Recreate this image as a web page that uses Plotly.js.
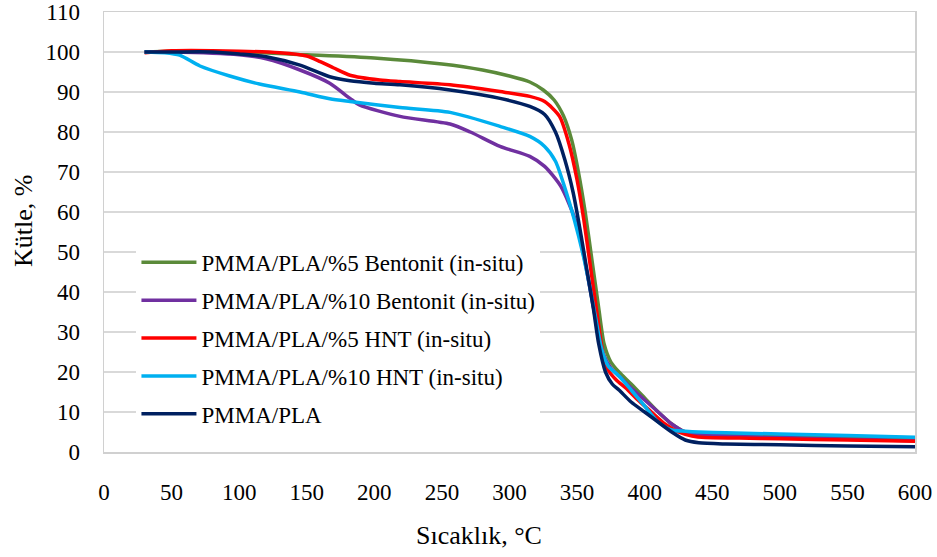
<!DOCTYPE html>
<html>
<head>
<meta charset="utf-8">
<script src="https://cdn.plot.ly/plotly-3.0.1.min.js"></script>
<style>html,body{margin:0;padding:0;background:#fff;}#chart{width:937px;height:557px;}</style>
</head>
<body>
<div id="chart"></div>
<script>
// Series names (legend order)
const seriesNames = [
  "PMMA/PLA/%5 Bentonit (in-situ)",
  "PMMA/PLA/%10 Bentonit (in-situ)",
  "PMMA/PLA/%5 HNT (in-situ)",
  "PMMA/PLA/%10 HNT (in-situ)",
  "PMMA/PLA"
];
const seriesColors = ["#5B8A3A", "#7030A0", "#FF0000", "#00B0F0", "#002060"];

// Temperature (°C) and mass (%) readings for each series
const tBent5 = [30, 50, 100, 150, 200, 250, 280, 300, 315, 325, 333, 340, 346, 351, 356, 361, 366, 370, 375, 381, 390, 400, 410, 420, 430, 440, 460, 500, 550, 600];
const mBent5 = [100, 100.2, 100, 99.3, 98.5, 97, 95.5, 94, 92.5, 90.5, 88, 84, 78, 70, 60, 48, 36, 27, 22.5, 20, 17, 13.5, 10, 7, 5, 4.5, 4.3, 4, 3.7, 3.4];

const tBent10 = [30, 50, 100, 120, 145, 167, 182, 189, 219, 256, 271, 293, 315, 326, 338, 349, 355, 360, 365, 370, 375, 381, 390, 400, 410, 420, 430, 440, 460, 500, 550, 600];
const mBent10 = [100, 100, 99.3, 98.3, 95.5, 92.2, 88.4, 86.8, 83.9, 82, 80, 76.4, 73.9, 71.4, 66.4, 57.7, 49, 40, 31, 24, 21, 19, 16, 13, 10, 7, 5, 4.5, 4, 3.6, 3.2, 2.8];

const tHnt5 = [30, 50, 100, 130, 150, 160, 170, 182, 204, 219, 256, 293, 315, 326, 337, 344, 350, 355, 360, 365, 369, 373, 379, 386, 395, 405, 415, 425, 435, 445, 470, 500, 550, 600];
const mHnt5 = [99.8, 100.3, 100.2, 99.8, 99, 97.6, 96, 94.2, 93, 92.6, 91.8, 90.1, 88.9, 87.6, 83.9, 77, 68, 58, 46, 34, 25, 20.5, 18, 16, 13, 10, 7, 5, 4, 3.6, 3.5, 3.3, 3, 2.7];

const tHnt10 = [30, 45, 56, 71, 93, 115, 145, 167, 182, 219, 256, 293, 315, 326, 334, 341, 348, 354, 359, 364, 368, 373, 381, 390, 400, 410, 420, 430, 440, 460, 500, 550, 600];
const mHnt10 = [100, 99.8, 99.2, 96.5, 94, 92, 90, 88.3, 87.6, 86.1, 84.9, 81.4, 78.9, 76.4, 72.7, 66, 58, 50, 42, 33, 26, 21.5, 19, 15.5, 11.5, 7.5, 5.5, 5.2, 5, 4.8, 4.5, 4.1, 3.7];

const tPure = [30, 50, 80, 100, 120, 145, 167, 182, 200, 219, 256, 293, 315, 326, 334, 341, 347, 352, 357, 362, 366, 371, 376, 381, 390, 400, 410, 420, 430, 440, 460, 500, 550, 600];
const mPure = [100, 100, 100, 99.5, 98.8, 96.7, 93.8, 92.8, 92.2, 91.8, 90.5, 88.4, 86.4, 84.4, 80, 73, 65, 56, 46, 36, 27, 20, 17, 15.5, 12.5, 10, 7.5, 5, 3, 2.3, 2, 1.8, 1.5, 1.3];

const xTickVals = [0, 50, 100, 150, 200, 250, 300, 350, 400, 450, 500, 550, 600];
const yTickVals = [0, 10, 20, 30, 40, 50, 60, 70, 80, 90, 100, 110];
const xTitle = "Sıcaklık, °C";
const yTitle = "Kütle, %";

const xs = [tBent5, tBent10, tHnt5, tHnt10, tPure];
const ys = [mBent5, mBent10, mHnt5, mHnt10, mPure];

const FONT = "Liberation Serif";

const traces = seriesNames.map((n, i) => ({
  type: "scatter",
  mode: "lines",
  name: n,
  x: xs[i],
  y: ys[i],
  line: {color: seriesColors[i], width: 3.5, shape: "spline", smoothing: 0.7},
  legendgroup: "g" + i
}));

const layout = {
  width: 937, height: 557,
  paper_bgcolor: "#fff", plot_bgcolor: "#fff",
  margin: {l: 104, r: 22, t: 12, b: 105},
  font: {family: FONT, size: 23, color: "#000"},
  showlegend: true,
  legend: {
    x: 0.04, y: 0.48, xanchor: "left", yanchor: "top",
    bgcolor: "#fff", borderwidth: 0,
    font: {family: FONT, size: 23, color: "#000"},
    traceorder: "grouped", tracegroupgap: 5, itemwidth: 55
  },
  xaxis: {
    range: [0, 600], tickvals: xTickVals, ticktext: xTickVals.map(String),
    showgrid: false, zeroline: false,
    showline: true, linecolor: "#d0d0d0", linewidth: 1.5, mirror: true,
    ticks: "", ticklabelstandoff: 19,
    tickfont: {family: FONT, size: 23, color: "#000"}
  },
  yaxis: {
    range: [0, 110], tickvals: yTickVals, ticktext: yTickVals.map(String),
    showgrid: true, gridcolor: "#d9d9d9", gridwidth: 1.5, zeroline: false,
    showline: true, linecolor: "#d0d0d0", linewidth: 1.5, mirror: true,
    ticks: "", ticklabelstandoff: 18,
    tickfont: {family: FONT, size: 23, color: "#000"}
  },
  annotations: [
    {text: xTitle, xref: "paper", yref: "paper", x: (479 - 104) / 811, y: -0.19, xanchor: "center", yanchor: "middle", showarrow: false, font: {family: FONT, size: 26, color: "#000"}},
    {text: yTitle, xref: "paper", yref: "paper", x: -0.1, y: (452 - 220) / 442, textangle: -90, xanchor: "center", yanchor: "middle", showarrow: false, font: {family: FONT, size: 26, color: "#000"}}
  ]
};

function draw() {
  Plotly.newPlot("chart", traces, layout, {displayModeBar: false, staticPlot: true});
}
if (document.fonts && document.fonts.load) {
  document.fonts.load('23px "Liberation Serif"').then(draw, draw);
} else {
  draw();
}
</script>
</body>
</html>
